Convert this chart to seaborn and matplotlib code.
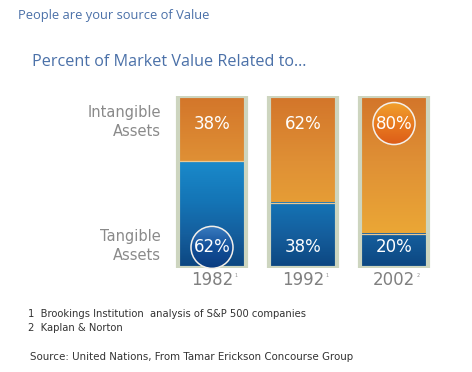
import numpy as np
import pandas as pd
import matplotlib
matplotlib.use("Agg")
import matplotlib.pyplot as plt
import seaborn as sns
from matplotlib.colors import LinearSegmentedColormap
from matplotlib.patches import Circle
from matplotlib.transforms import Affine2D

years = ["1982", "1992", "2002"]
footnote_marks = ["1", "1", "2"]
tangible = [62, 38, 20]
intangible = [38, 62, 80]
circle_on = [("tangible", 0), ("intangible", 2)]
footnotes = ["1  Brookings Institution  analysis of S&P 500 companies", "2  Kaplan & Norton"]
source = "Source: United Nations, From Tamar Erickson Concourse Group"

sns.set_theme(style="white")
plt.rcParams['font.family'] = ['DejaVu Sans']

W, H = 472, 372
fig = plt.figure(figsize=(W/100, H/100), dpi=100)
ax = fig.add_axes([166.5/W, 1-268/H, 273/W, 172/H])

df = pd.DataFrame({"year": years,
                   "total": [t + i for t, i in zip(tangible, intangible)],
                   "tangible": tangible})
sns.barplot(data=df, x="year", y="total", ax=ax, color="white", width=0.74,
            edgecolor="#cdd5bf", linewidth=3, zorder=3)
n_total = len(ax.patches)
sns.barplot(data=df, x="year", y="tangible", ax=ax, color="white", width=0.74,
            linewidth=0, zorder=1)
patches = list(ax.patches)
for p in patches[:n_total]:
    p.set_facecolor("none")

# absolute gradients (value 0 at bottom of axis, 100 at top)
orange = LinearSegmentedColormap.from_list(
    "o", [(0.0, "#eeae38"), (0.2, "#eba735"), (0.62, "#df9035"), (1.0, "#d3752a")])
blue = LinearSegmentedColormap.from_list(
    "b", [(0.0, "#0c4680"), (0.2, "#155f9e"), (0.38, "#1474b5"), (0.62, "#1a8acb"), (1.0, "#2096d6")])

def grad(lo, hi):
    return np.linspace(lo / 100, hi / 100, 256).reshape(-1, 1)

for i in range(len(years)):
    tp = patches[n_total + i]
    x0, w = tp.get_x(), tp.get_width()
    t = tp.get_height()
    tot = patches[i].get_height()
    ax.imshow(grad(t, tot), cmap=orange, vmin=0, vmax=1, origin="lower", aspect="auto",
              extent=(x0, x0 + w, t, tot), zorder=2, interpolation="nearest")
    ax.imshow(grad(0, t), cmap=blue, vmin=0, vmax=1, origin="lower", aspect="auto",
              extent=(x0, x0 + w, 0, t), zorder=2, interpolation="nearest")
    ax.plot([x0, x0 + w], [t, t], color="#ecc890", lw=0.9, zorder=2.5)

ax.set_xlim(-0.5, 2.5)
ax.set_ylim(0, 100)
ax.axis("off")

fig.canvas.draw()
# glossy circles
cblue = LinearSegmentedColormap.from_list("cb", ["#0b3c80", "#124f98", "#3a7cc0"])
corange = LinearSegmentedColormap.from_list("co", ["#dc5c18", "#e87a20", "#f0a02c"])
r_px = 21
for seg, i in circle_on:
    y = 12 if seg == "tangible" else 84
    cmap = cblue if seg == "tangible" else corange
    cx, cy = ax.transData.transform((i, y))
    clip = Circle((0, 0), r_px, transform=Affine2D().translate(cx, cy),
                  facecolor="none", edgecolor="none")
    fig.add_artist(clip)
    dx = r_px / ax.transData.get_matrix()[0, 0]
    dy = r_px / ax.transData.get_matrix()[1, 1]
    im = ax.imshow(np.linspace(0, 1, 128).reshape(-1, 1), cmap=cmap, origin="lower",
                   aspect="auto", extent=(i - dx, i + dx, y - dy, y + dy), zorder=4)
    im.set_clip_path(clip)
    ring = Circle((0, 0), r_px, transform=Affine2D().translate(cx, cy),
                  facecolor="none", edgecolor="#f4f0ea", linewidth=1.1, zorder=4.5)
    fig.add_artist(ring)

for i in range(len(years)):
    ax.text(i, 84, f"{intangible[i]}%", ha="center", va="center", color="white",
            fontsize=12, zorder=5)
    ax.text(i, 12, f"{tangible[i]}%", ha="center", va="center", color="white",
            fontsize=12, zorder=5)
    ax.text(i, -7, years[i], ha="center", va="center", color="#808080", fontsize=12,
            clip_on=False)
    ax.text(i + 0.245, -4.3, footnote_marks[i], ha="left", va="center", color="#909090",
            fontsize=3.5, clip_on=False)

fig.text(161/W, 1-122/H, "Intangible\nAssets", ha="right", va="center", color="#8a8a8a",
         fontsize=10.5, linespacing=1.35)
fig.text(161/W, 1-246/H, "Tangible\nAssets", ha="right", va="center", color="#8a8a8a",
         fontsize=10.5, linespacing=1.35)

fig.text(18/W, 1-15/H, "People are your source of Value", ha="left", va="center",
         color="#4a70a8", fontsize=9.3, family=["Open Sans"])
fig.text(32/W, 1-62/H, "Percent of Market Value Related to…", ha="left", va="center",
         color="#4a70a8", fontsize=11.6, family=["Open Sans"])

fig.text(28/W, 1-314/H, footnotes[0], ha="left", va="center", color="#333333", fontsize=7.2)
fig.text(28/W, 1-328/H, footnotes[1], ha="left", va="center", color="#333333", fontsize=7.2)
fig.text(30/W, 1-357/H, source, ha="left", va="center", color="#333333", fontsize=7.4)

fig.savefig("out.png", dpi=100)
